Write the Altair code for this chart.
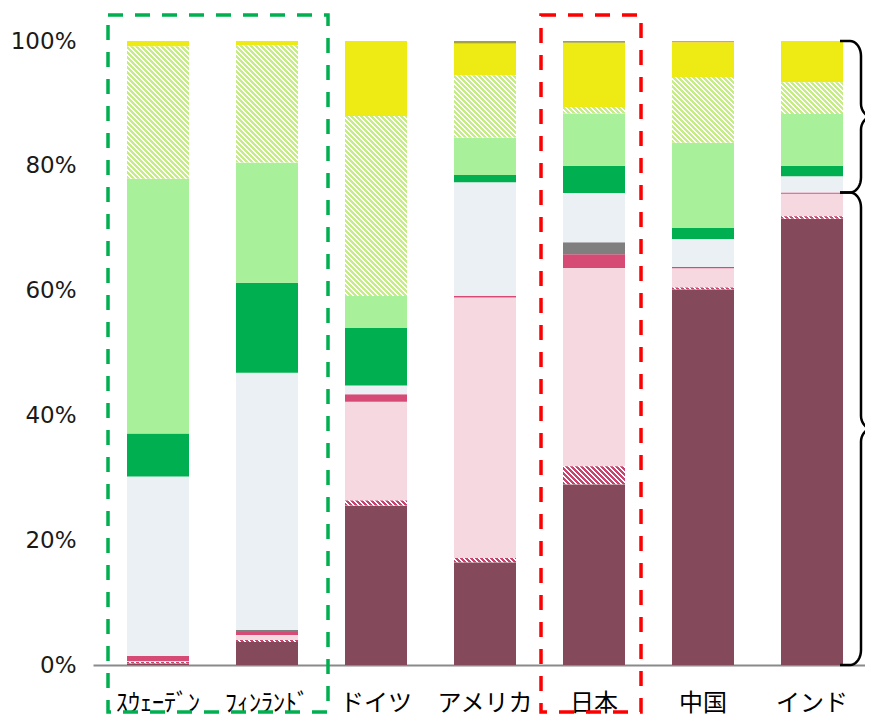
import altair as alt
import numpy as np
import pandas as pd

# ---------------- data (percent of generation) ----------------
countries = ["ｽｳｪｰﾃﾞﾝ", "ﾌｨﾝﾗﾝﾄﾞ", "ドイツ", "アメリカ", "日本", "中国", "インド"]

cats = ["coal", "coal_h", "gas", "oil", "other_fossil", "nuclear",
        "hydro", "renew", "vre", "yellow", "olive", "orange"]

coal         = [0.3, 3.7, 25.5, 16.5, 29.0, 60.5, 71.6]
coal_h       = [0.2, 0.3, 0.8, 0.7, 2.9, 0.3, 0.4]
gas          = [0.15, 0.8, 15.8, 41.8, 31.8, 3.1, 3.6]
oil          = [0.8, 0.5, 1.2, 0.3, 2.2, 0.2, 0.2]
other_fossil = [0.0, 0.3, 0.0, 0.0, 1.9, 0.0, 0.0]
nuclear      = [28.8, 41.3, 1.4, 18.2, 7.9, 4.5, 2.6]
hydro        = [6.9, 14.4, 9.2, 1.2, 4.4, 1.8, 1.7]
renew        = [40.9, 19.3, 5.1, 6.0, 8.4, 13.7, 8.3]
vre          = [21.2, 18.8, 28.8, 10.0, 1.0, 10.6, 5.1]
yellow       = [0.9, 0.7, 12.0, 5.1, 10.3, 5.6, 6.6]
olive        = [0.0, 0.0, 0.0, 0.4, 0.3, 0.0, 0.0]
orange       = [0.0, 0.0, 0.0, 0.0, 0.0, 0.2, 0.0]

series = {"coal": coal, "coal_h": coal_h, "gas": gas, "oil": oil,
          "other_fossil": other_fossil, "nuclear": nuclear, "hydro": hydro,
          "renew": renew, "vre": vre, "yellow": yellow, "olive": olive,
          "orange": orange}

fossil_cats = ["coal", "coal_h", "gas", "oil", "other_fossil"]

# ---------------- styling ----------------
solid_colors = {"coal": "#844A5C", "coal_h": "#FFFFFF", "gas": "#F6D8E1",
                "oil": "#D64B75", "other_fossil": "#7F7F7F", "nuclear": "#EAF0F4",
                "hydro": "#00B050", "renew": "#A9F09A", "vre": "#FFFFFF",
                "yellow": "#EDEA14", "olive": "#A6A23A", "orange": "#F0A030"}
hatch_colors = {"coal_h": "#C8446E", "vre": "#C6EC86"}

W, H = 772, 624
TOP_PAD, BOTTOM_PAD = 33, 51
STEP, BAR = 109, 62
PI = (STEP - BAR) / STEP
OUTER = W - (7 * STEP - (STEP - BAR))
PO = OUTER / 2 / STEP
ALIGN = 34 / OUTER
LEFT0 = OUTER * ALIGN / STEP          # left edge of first bar, in step units
XMAX = W / STEP

rows = []
for ci, c in enumerate(countries):
    for k, cat in enumerate(cats):
        rows.append({"country": c, "cat": cat, "order": k, "value": series[cat][ci]})
df = pd.DataFrame(rows)
totals = [sum(series[cat][ci] for cat in cats) for ci in range(len(countries))]

xscale = alt.Scale(domain=countries, paddingInner=PI, paddingOuter=PO,
                   align=ALIGN, round=False)
yscale = alt.Scale(domain=[0, 1], nice=False, zero=False)

x_axis = alt.Axis(labelAngle=0, ticks=False, tickSize=0, labelPadding=26,
                  labelFont="Noto Sans CJK JP", labelFontSize=24,
                  labelColor="#000000", domainColor="#8A8A8A",
                  domainWidth=2, grid=False, title=None)
y_axis = alt.Axis(format=".0%", values=[0, 0.2, 0.4, 0.6, 0.8, 1.0],
                  ticks=False, tickSize=0, domain=False, grid=False,
                  labelPadding=17, labelFont="DejaVu Sans",
                  labelFontSize=23, labelColor="#1A1A1A", title=None)

base = alt.Chart(df).transform_stack(
    stack="value", groupby=["country"], as_=["y0", "y1"], offset="normalize",
    sort=[alt.SortField("order", order="ascending")]
)

bars = base.mark_bar().encode(
    x=alt.X("country:N", scale=xscale, axis=x_axis),
    y=alt.Y("y0:Q", scale=yscale, axis=y_axis),
    y2="y1:Q",
    color=alt.Color("cat:N", scale=alt.Scale(domain=cats,
                                             range=[solid_colors[c] for c in cats]),
                    legend=None),
)


def hatch(color, h, w, period=5.0, duty=0.6):
    h = max(h, 0.5)
    span = w + h
    k = span / (w * w + h * h)
    a, b = k * w, k * h
    n = int(np.ceil(span / period)) + 1
    stops = []
    for i in range(n):
        t0 = min(i * period / span, 1.0)
        t1 = min((i + duty) * period / span, 1.0)
        t2 = min((i + 1) * period / span, 1.0)
        stops += [{"offset": round(t0, 5), "color": color},
                  {"offset": round(t1, 5), "color": color},
                  {"offset": round(t1, 5), "color": "#FFFFFF"},
                  {"offset": round(t2, 5), "color": "#FFFFFF"}]
    return {"gradient": "linear", "x1": 0, "y1": 1, "x2": round(a, 5),
            "y2": round(1 - b, 5), "stops": stops}


hatch_layers = []
for ci, c in enumerate(countries):
    for cat, col in hatch_colors.items():
        v = series[cat][ci]
        if v <= 0:
            continue
        hpx = v / totals[ci] * H
        hatch_layers.append(
            base.transform_filter(f"datum.country == '{c}' && datum.cat == '{cat}'")
            .mark_bar(fill=hatch(col, hpx, BAR))
            .encode(x=alt.X("country:N", scale=xscale, axis=x_axis),
                    y=alt.Y("y0:Q", scale=yscale, axis=y_axis),
                    y2="y1:Q")
        )

inner = alt.layer(bars, *hatch_layers)

# ---------------- annotation frames (dashed) ----------------
def bar_left(i):
    return LEFT0 + i


def bar_right(i):
    return LEFT0 + i + BAR / STEP


frame_top = 1 + 26 / H
frame_bot = -(BOTTOM_PAD - 4) / H
frames_df = pd.DataFrame({
    "xa": [bar_left(0) - 19 / STEP, bar_left(4) - 22 / STEP],
    "xb": [bar_right(1) + 30 / STEP, bar_right(4) + 16 / STEP],
    "ya": [frame_top, frame_top],
    "yb": [frame_bot, frame_bot],
    "col": ["#00B050", "#FF0000"],
})
lin = alt.Scale(domain=[0, XMAX], nice=False, zero=False)
frames = alt.Chart(frames_df).mark_rect(filled=False, strokeDash=[15, 12],
                                        strokeWidth=3.5).encode(
    x=alt.X("xa:Q", scale=lin, axis=None),
    x2="xb:Q",
    y=alt.Y("ya:Q", scale=yscale, axis=y_axis),
    y2="yb:Q",
    stroke=alt.Stroke("col:N", scale=None),
)

# ---------------- braces next to India ----------------
ind = countries.index("インド")
fossil_share = sum(series[c][ind] for c in fossil_cats) / totals[ind]


def brace_points(y_top, y_bot, x_end):
    sx = 1 / STEP
    sy = 1 / H
    x0 = x_end - 3 * sx
    x1 = x_end + 18 * sx
    rx, ry = 11 * sx, 15 * sy
    tx, ty = 11 * sx, 13 * sy
    ym = (y_top + y_bot) / 2
    pts = [(x0, y_top)]
    for th in np.linspace(0, np.pi / 2, 10):
        pts.append((x1 - rx + rx * np.sin(th), y_top - ry + ry * np.cos(th)))
    for th in np.linspace(0, np.pi / 2, 10):
        pts.append((x1 + tx - tx * np.cos(th), ym + ty - ty * np.sin(th)))
    half = list(pts)
    mirrored = [(x, 2 * ym - y) for (x, y) in reversed(half)]
    return half + mirrored[1:]


brows = []
for name, (yt, yb) in {"a": (1.0, fossil_share), "b": (fossil_share, 0.0)}.items():
    for i, (bx, by) in enumerate(brace_points(yt, yb, bar_right(ind))):
        brows.append({"brace": name, "idx": i, "bx": bx, "by": by})
brace_df = pd.DataFrame(brows)

braces = alt.Chart(brace_df).mark_line(color="#000000", strokeWidth=2.5).encode(
    x=alt.X("bx:Q", scale=lin, axis=None),
    y=alt.Y("by:Q", scale=yscale, axis=y_axis),
    detail="brace:N",
    order="idx:Q",
)

chart = alt.layer(inner, frames, braces).resolve_scale(x="independent").properties(
    width=W, height=H,
    autosize=alt.AutoSizeParams(type="none"),
    padding={"left": 85, "top": TOP_PAD, "right": 0, "bottom": BOTTOM_PAD},
).configure_view(stroke=None)

chart.save("out.html", embed_options={"renderer": "svg", "actions": False})
